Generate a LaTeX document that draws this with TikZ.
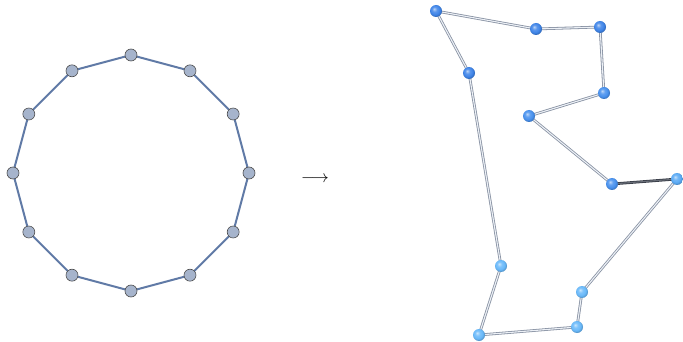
\documentclass[tikz,border=0pt]{standalone}
\usetikzlibrary{calc}
\makeatletter
\pgfdeclareradialshading[tikz@ball]{softball}{\pgfpoint{-8bp}{9bp}}{color(0bp)=(tikz@ball!35!white); color(10bp)=(tikz@ball!85!white); color(20bp)=(tikz@ball); color(27bp)=(tikz@ball!80!black); color(50bp)=(tikz@ball!60!black)}
\makeatother
\begin{document}
\begin{tikzpicture}[x=1pt,y=-1pt,
  ring/.style={draw=black!70,fill={rgb,255:red,166;green,180;blue,204},circle,inner sep=0pt,minimum size=12pt,line width=0.6pt},
  ringedge/.style={draw={rgb,255:red,96;green,122;blue,166},line width=2pt},
  ballnode/.style={circle,inner sep=0pt,minimum size=12pt},
  tube/.style={draw={rgb,255:red,135;green,145;blue,162},line width=0.8pt,double={rgb,255:red,236;green,240;blue,246},double distance=1.1pt},
  darktube/.style={draw={rgb,255:red,55;green,60;blue,70},line width=0.8pt,double={rgb,255:red,105;green,110;blue,120},double distance=1.1pt}]
\useasboundingbox (0,0) rectangle (683,342);
% left ring
\foreach \i in {0,...,11}{
  \coordinate (c\i) at ($(131,173)+({90+30*\i}:118pt)$);
}
\foreach \i [evaluate=\i as \j using {int(mod(\i+1,12))}] in {0,...,11}{
  \draw[ringedge] (c\i) -- (c\j);
}
\foreach \i in {0,...,11}{
  \node[ring] (r\i) at (c\i) {};
}
% arrow
\node (arr) at (315,179) {\fontsize{17}{20}\selectfont$\longrightarrow$};
% right graph
\definecolor{b1}{RGB}{62,132,232}
\definecolor{b2}{RGB}{72,145,238}
\definecolor{b3}{RGB}{90,170,245}
\definecolor{b4}{RGB}{105,185,250}
\coordinate (p1) at (436,11);
\coordinate (p2) at (536,29);
\coordinate (p3) at (600,27);
\coordinate (p4) at (604,93);
\coordinate (p5) at (529,116);
\coordinate (p6) at (612,184);
\coordinate (p7) at (677,179);
\coordinate (p8) at (582,292);
\coordinate (p9) at (577,327);
\coordinate (p10) at (479,335);
\coordinate (p11) at (501,266);
\coordinate (p12) at (469,73);
\draw[tube] (p1) -- (p2);
\draw[tube] (p2) -- (p3);
\draw[tube] (p3) -- (p4);
\draw[tube] (p4) -- (p5);
\draw[tube] (p5) -- (p6);
\draw[darktube] (p6) -- (p7);
\draw[tube] (p7) -- (p8);
\draw[tube] (p8) -- (p9);
\draw[tube] (p9) -- (p10);
\draw[tube] (p10) -- (p11);
\draw[tube] (p11) -- (p12);
\draw[tube] (p12) -- (p1);
\node[ballnode,ball color=b1,shading=softball] (n1) at (p1) {};
\node[ballnode,ball color=b1,shading=softball] (n2) at (p2) {};
\node[ballnode,ball color=b1,shading=softball] (n3) at (p3) {};
\node[ballnode,ball color=b2,shading=softball] (n4) at (p4) {};
\node[ballnode,ball color=b2,shading=softball] (n5) at (p5) {};
\node[ballnode,ball color=b2,shading=softball] (n6) at (p6) {};
\node[ballnode,ball color=b3,shading=softball] (n7) at (p7) {};
\node[ballnode,ball color=b4,shading=softball] (n8) at (p8) {};
\node[ballnode,ball color=b4,shading=softball] (n9) at (p9) {};
\node[ballnode,ball color=b4,shading=softball] (n10) at (p10) {};
\node[ballnode,ball color=b4,shading=softball] (n11) at (p11) {};
\node[ballnode,ball color=b1,shading=softball] (n12) at (p12) {};
\end{tikzpicture}
\end{document}
